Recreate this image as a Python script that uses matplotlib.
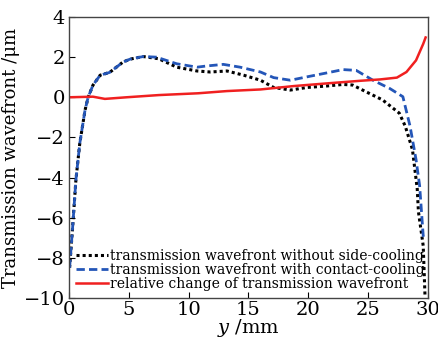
import matplotlib
matplotlib.use("Agg")
import matplotlib.pyplot as plt

plt.rcParams['font.family'] = ['DejaVu Serif']
plt.rcParams['mathtext.fontset'] = 'dejavuserif'

# without side-cooling (black dotted)
x_black = [0.05, 0.3, 0.58, 0.9, 1.34, 1.6, 2.0, 2.6, 3.4, 4.5, 5.1, 6.2, 7.5, 9.0, 10.7, 11.8, 13.2,
           14.6, 16.0, 17.1, 18.5, 19.9, 21.5, 22.9, 23.7, 24.8, 26.2, 27.6, 28.1, 28.7, 29.1, 29.2,
           29.6, 29.75]
y_black = [-8.5, -6.5, -4.1, -2.3, -0.64, 0.0, 0.6, 1.1, 1.24, 1.75, 1.9, 2.03, 1.92, 1.5, 1.31, 1.26, 1.31,
           1.1, 0.85, 0.49, 0.36, 0.49, 0.56, 0.64, 0.61, 0.28, -0.13, -0.79, -1.44, -2.6, -4.56, -5.7,
           -7.4, -9.9]

# with contact-cooling (blue dashed)
x_blue = [0.05, 0.3, 0.58, 0.9, 1.34, 1.6, 2.0, 2.6, 3.4, 4.5, 5.1, 6.2, 7.3, 9.0, 10.7, 11.5, 12.9,
          14.3, 16.0, 17.1, 18.5, 19.9, 21.5, 22.9, 24.0, 25.4, 26.8, 27.9, 28.5, 29.0, 29.3, 29.6, 29.75]
y_blue = [-8.5, -6.5, -4.1, -2.3, -0.64, 0.0, 0.6, 1.1, 1.24, 1.75, 1.9, 2.03, 2.0, 1.67, 1.5, 1.56, 1.64,
          1.5, 1.26, 0.98, 0.85, 1.02, 1.21, 1.38, 1.34, 0.85, 0.44, 0.03, -1.44, -3.1, -4.4, -6.9, -7.1]

# relative change (red solid)
x_red = [0.0, 2.0, 3.0, 4.8, 7.5, 10.8, 13.2, 16.0, 18.8, 21.5, 24.3, 26.0, 27.4, 28.2, 29.0, 29.6, 29.8]
y_red = [0.0, 0.03, -0.08, 0.0, 0.11, 0.2, 0.31, 0.39, 0.56, 0.69, 0.82, 0.89, 0.98, 1.26, 1.84, 2.66, 2.98]

labels = ["transmission wavefront without side-cooling",
          "transmission wavefront with contact-cooling",
          "relative change of transmission wavefront"]

fig = plt.figure(figsize=(4.39, 3.44), dpi=100)
ax = fig.add_axes([69/439, 46/344, 359/439, 281/344])

ax.plot(x_black, y_black, color='black', linestyle=(0, (1, 1)), lw=2.2, label=labels[0])
ax.plot(x_blue, y_blue, color='#2456b8', linestyle=(0, (3, 1.5)), lw=2.0, label=labels[1])
ax.plot(x_red, y_red, color='#f02020', linestyle='-', lw=1.8, label=labels[2])

ax.set_xlim(0, 30)
ax.set_ylim(-10, 4)
ax.set_xticks([0, 5, 10, 15, 20, 25, 30])
ax.set_yticks([-10, -8, -6, -4, -2, 0, 2, 4])
ax.set_yticklabels(['\u221210', '\u22128', '\u22126', '\u22124', '\u22122', '0', '2', '4'])
ax.tick_params(direction='in', length=4, width=0.8, labelsize=14, top=False, right=False, pad=2)
ax.tick_params(axis='y', pad=3)
for s in ax.spines.values():
    s.set_color('#444444')
    s.set_linewidth(1.0)

ax.set_xlabel(r'$y$ /mm', fontsize=14, labelpad=-1)
ax.set_ylabel('Transmission wavefront /\u03bcm', fontsize=13, labelpad=3)

leg = ax.legend(loc='lower left', frameon=False, fontsize=10.0, handlelength=2.3,
                handletextpad=0.15, borderaxespad=0.2, labelspacing=0.0, borderpad=0.3)

fig.savefig('out.png', dpi=100)
